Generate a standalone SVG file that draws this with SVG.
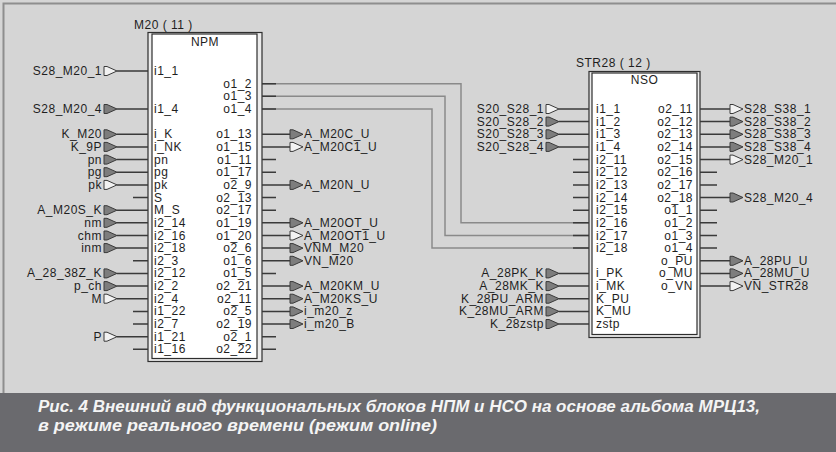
<svg xmlns="http://www.w3.org/2000/svg" xmlns:xlink="http://www.w3.org/1999/xlink" width="836" height="452" viewBox="0 0 836 452">
<style>
.t{font-family:"Liberation Sans",Arial,sans-serif;font-size:12px;letter-spacing:0.5px;fill:#1e1e1e}
.e{text-anchor:end}
.m{text-anchor:middle}
.s{stroke:#3a3a3a;stroke-width:1.5;fill:none}
.c{stroke:#8a8a8a;stroke-width:1.5;fill:none}
.mf{fill:#7d7d7d;stroke:#3a3a3a;stroke-width:1}
.mh{fill:#f2f2f2;stroke:#3a3a3a;stroke-width:1}
.bo{fill:#ececec;stroke:#2e2e2e;stroke-width:1.2}
.bi{fill:#ffffff;stroke:#2e2e2e;stroke-width:1.2}
.cap{font-family:"Liberation Sans",Arial,sans-serif;font-style:italic;font-weight:bold;font-size:16px;fill:#f4f4f4}
</style>
<defs>
<polygon id="mF" class="mf" points="0,-4.5 3,-4.5 13,0 3,4.5 0,4.5"/>
<polygon id="mH" class="mh" points="0,-4.5 3,-4.5 13,0 3,4.5 0,4.5"/>
</defs>
<rect x="0" y="0" width="836" height="452" fill="#d5d5d5"/>
<path d="M3.5,393 V3.5 H836" stroke="#8e8e8e" stroke-width="2" fill="none"/>
<rect x="0" y="393" width="836" height="59" fill="#6a6a6e"/>

<g id="connectors">
<path class="c" d="M262,83.7 H461 V222.8 H589"/>
<path class="c" d="M262,96.3 H445 V235.5 H589"/>
<path class="c" d="M262,109 H432 V248.1 H589"/>
</g>

<g id="npm">
<text class="t" x="134" y="29">M20 ( 11 )</text>
<rect class="bo" x="148" y="32.5" width="114" height="329"/>
<rect class="bi" x="152" y="34" width="105" height="324.5"/>
<text class="t m" x="205" y="46">NPM</text>
<g class="t">
<text x="154" y="75">i1_1</text>
<text x="154" y="113">i1_4</text>
<text x="154" y="138.3">i_K</text>
<text x="154" y="150.9">i_NK</text>
<text x="154" y="163.6">pn</text>
<text x="154" y="176.2">pg</text>
<text x="154" y="188.9">pk</text>
<text x="154" y="201.5">S</text>
<text x="154" y="214.2">M_S</text>
<text x="154" y="226.8">i2_14</text>
<text x="154" y="239.5">i2_16</text>
<text x="154" y="252.1">i2_18</text>
<text x="154" y="264.8">i2_3</text>
<text x="154" y="277.4">i2_12</text>
<text x="154" y="290.1">i2_2</text>
<text x="154" y="302.7">i2_4</text>
<text x="154" y="315.4">i1_22</text>
<text x="154" y="328">i2_7</text>
<text x="154" y="340.7">i1_21</text>
<text x="154" y="353.3">i1_16</text>
</g>
<g class="t e">
<text x="252" y="87.7">o1_2</text>
<text x="252" y="100.3">o1_3</text>
<text x="252" y="113">o1_4</text>
<text x="252" y="138.3">o1_13</text>
<text x="252" y="150.9">o1_15</text>
<text x="252" y="163.6">o1_11</text>
<text x="252" y="176.2">o1_17</text>
<text x="252" y="188.9">o2_9</text>
<text x="252" y="201.5">o2_13</text>
<text x="252" y="214.2">o2_17</text>
<text x="252" y="226.8">o1_19</text>
<text x="252" y="239.5">o1_20</text>
<text x="252" y="252.1">o2_6</text>
<text x="252" y="264.8">o1_6</text>
<text x="252" y="277.4">o1_5</text>
<text x="252" y="290.1">o2_21</text>
<text x="252" y="302.7">o2_11</text>
<text x="252" y="315.4">o2_5</text>
<text x="252" y="328">o2_19</text>
<text x="252" y="340.7">o2_1</text>
<text x="252" y="353.3">o2_22</text>
</g>
<path class="s" d="M117,71H148 M117,109H148 M117,134.3H148 M117,146.9H148 M117,159.6H148 M117,172.2H148 M117,184.9H148 M133,197.5H148 M117,210.2H148 M117,222.8H148 M117,235.5H148 M117,248.1H148 M133,260.8H148 M117,273.4H148 M117,286.1H148 M117,298.7H148 M133,311.4H148 M133,324H148 M117,336.7H148 M133,349.3H148"/>
<use href="#mH" x="104" y="71"/>
<use href="#mF" x="104" y="109"/>
<use href="#mF" x="104" y="134.3"/>
<use href="#mF" x="104" y="146.9"/>
<use href="#mF" x="104" y="159.6"/>
<use href="#mF" x="104" y="172.2"/>
<use href="#mH" x="104" y="184.9"/>
<use href="#mF" x="104" y="210.2"/>
<use href="#mF" x="104" y="222.8"/>
<use href="#mF" x="104" y="235.5"/>
<use href="#mF" x="104" y="248.1"/>
<use href="#mF" x="104" y="273.4"/>
<use href="#mF" x="104" y="286.1"/>
<use href="#mH" x="104" y="298.7"/>
<use href="#mH" x="104" y="336.7"/>
<g class="t e">
<text x="102" y="75">S28_M20_1</text>
<text x="102" y="113">S28_M20_4</text>
<text x="102" y="138.3">K_M20</text>
<text x="102" y="150.9">K_9P</text>
<text x="102" y="163.6">pn</text>
<text x="102" y="176.2">pg</text>
<text x="102" y="188.9">pk</text>
<text x="102" y="214.2">A_M20S_K</text>
<text x="102" y="226.8">nm</text>
<text x="102" y="239.5">chm</text>
<text x="102" y="252.1">inm</text>
<text x="102" y="277.4">A_28_38Z_K</text>
<text x="102" y="290.1">p_ch</text>
<text x="102" y="302.7">M</text>
<text x="102" y="340.7">P</text>
</g>
<path class="s" d="M262,83.7H276 M262,96.3H276 M262,109H276 M262,134.3H290 M262,146.9H290 M262,159.6H276 M262,172.2H276 M262,184.9H290 M262,197.5H276 M262,210.2H276 M262,222.8H290 M262,235.5H290 M262,248.1H290 M262,260.8H290 M262,273.4H276 M262,286.1H290 M262,298.7H290 M262,311.4H290 M262,324H290 M262,336.7H276 M262,349.3H276"/>
<use href="#mF" x="290" y="134.3"/>
<use href="#mH" x="290" y="146.9"/>
<use href="#mF" x="290" y="184.9"/>
<use href="#mF" x="290" y="222.8"/>
<use href="#mH" x="290" y="235.5"/>
<use href="#mF" x="290" y="248.1"/>
<use href="#mF" x="290" y="260.8"/>
<use href="#mF" x="290" y="286.1"/>
<use href="#mF" x="290" y="298.7"/>
<use href="#mF" x="290" y="311.4"/>
<use href="#mF" x="290" y="324"/>
<g class="t">
<text x="304" y="138.3">A_M20C_U</text>
<text x="304" y="150.9">A_M20C1_U</text>
<text x="304" y="188.9">A_M20N_U</text>
<text x="304" y="226.8">A_M20OT_U</text>
<text x="304" y="239.5">A_M20OT1_U</text>
<text x="304" y="252.1">VNM_M20</text>
<text x="304" y="264.8">VN_M20</text>
<text x="304" y="290.1">A_M20KM_U</text>
<text x="304" y="302.7">A_M20KS_U</text>
<text x="304" y="315.4">i_m20_z</text>
<text x="304" y="328">i_m20_B</text>
</g>
</g>

<g id="nso">
<text class="t" x="576" y="67">STR28 ( 12 )</text>
<rect class="bo" x="589" y="71.5" width="111" height="266"/>
<rect class="bi" x="592" y="73" width="105" height="261.5"/>
<text class="t m" x="644.5" y="84">NSO</text>
<g class="t">
<text x="596" y="113">i1_1</text>
<text x="596" y="125.6">i1_2</text>
<text x="596" y="138.3">i1_3</text>
<text x="596" y="150.9">i1_4</text>
<text x="596" y="163.6">i2_11</text>
<text x="596" y="176.2">i2_12</text>
<text x="596" y="188.9">i2_13</text>
<text x="596" y="201.5">i2_14</text>
<text x="596" y="214.2">i2_15</text>
<text x="596" y="226.8">i2_16</text>
<text x="596" y="239.5">i2_17</text>
<text x="596" y="252.1">i2_18</text>
<text x="596" y="277.4">i_PK</text>
<text x="596" y="290.1">i_MK</text>
<text x="596" y="302.7">K_PU</text>
<text x="596" y="315.4">K_MU</text>
<text x="596" y="328">zstp</text>
</g>
<g class="t e">
<text x="693" y="113">o2_11</text>
<text x="693" y="125.6">o2_12</text>
<text x="693" y="138.3">o2_13</text>
<text x="693" y="150.9">o2_14</text>
<text x="693" y="163.6">o2_15</text>
<text x="693" y="176.2">o2_16</text>
<text x="693" y="188.9">o2_17</text>
<text x="693" y="201.5">o2_18</text>
<text x="693" y="214.2">o1_1</text>
<text x="693" y="226.8">o1_2</text>
<text x="693" y="239.5">o1_3</text>
<text x="693" y="252.1">o1_4</text>
<text x="693" y="264.8">o_PU</text>
<text x="693" y="277.4">o_MU</text>
<text x="693" y="290.1">o_VN</text>
</g>
<path class="s" d="M559,109H589 M559,121.6H589 M559,134.3H589 M559,146.9H589 M573,159.6H589 M573,172.2H589 M573,184.9H589 M573,197.5H589 M573,210.2H589 M573,222.8H589 M573,235.5H589 M573,248.1H589 M559,273.4H589 M559,286.1H589 M559,298.7H589 M559,311.4H589 M559,324H589"/>
<use href="#mH" x="546" y="109"/>
<use href="#mF" x="546" y="121.6"/>
<use href="#mF" x="546" y="134.3"/>
<use href="#mF" x="546" y="146.9"/>
<use href="#mF" x="546" y="273.4"/>
<use href="#mF" x="546" y="286.1"/>
<use href="#mF" x="546" y="298.7"/>
<use href="#mF" x="546" y="311.4"/>
<use href="#mF" x="546" y="324"/>
<g class="t e">
<text x="544" y="113">S20_S28_1</text>
<text x="544" y="125.6">S20_S28_2</text>
<text x="544" y="138.3">S20_S28_3</text>
<text x="544" y="150.9">S20_S28_4</text>
<text x="544" y="277.4">A_28PK_K</text>
<text x="544" y="290.1">A_28MK_K</text>
<text x="544" y="302.7">K_28PU_ARM</text>
<text x="544" y="315.4">K_28MU_ARM</text>
<text x="544" y="328">K_28zstp</text>
</g>
<path class="s" d="M700,109H730 M700,121.6H730 M700,134.3H730 M700,146.9H730 M700,159.6H730 M700,172.2H717 M700,184.9H717 M700,197.5H730 M700,210.2H717 M700,222.8H717 M700,235.5H717 M700,248.1H717 M700,260.8H730 M700,273.4H730 M700,286.1H730"/>
<use href="#mH" x="730" y="109"/>
<use href="#mF" x="730" y="121.6"/>
<use href="#mF" x="730" y="134.3"/>
<use href="#mF" x="730" y="146.9"/>
<use href="#mH" x="730" y="159.6"/>
<use href="#mF" x="730" y="197.5"/>
<use href="#mF" x="730" y="260.8"/>
<use href="#mF" x="730" y="273.4"/>
<use href="#mH" x="730" y="286.1"/>
<g class="t">
<text x="744" y="113">S28_S38_1</text>
<text x="744" y="125.6">S28_S38_2</text>
<text x="744" y="138.3">S28_S38_3</text>
<text x="744" y="150.9">S28_S38_4</text>
<text x="744" y="163.6">S28_M20_1</text>
<text x="744" y="201.5">S28_M20_4</text>
<text x="744" y="264.8">A_28PU_U</text>
<text x="744" y="277.4">A_28MU_U</text>
<text x="744" y="290.1">VN_STR28</text>
</g>
</g>

<g id="caption">
<text class="cap" x="38" y="412" textLength="722" lengthAdjust="spacingAndGlyphs">Рис. 4 Внешний вид функциональных блоков НПМ и НСО на основе альбома МРЦ13,</text>
<text class="cap" x="38" y="431" textLength="399" lengthAdjust="spacingAndGlyphs">в режиме реального времени (режим online)</text>
</g>
</svg>
